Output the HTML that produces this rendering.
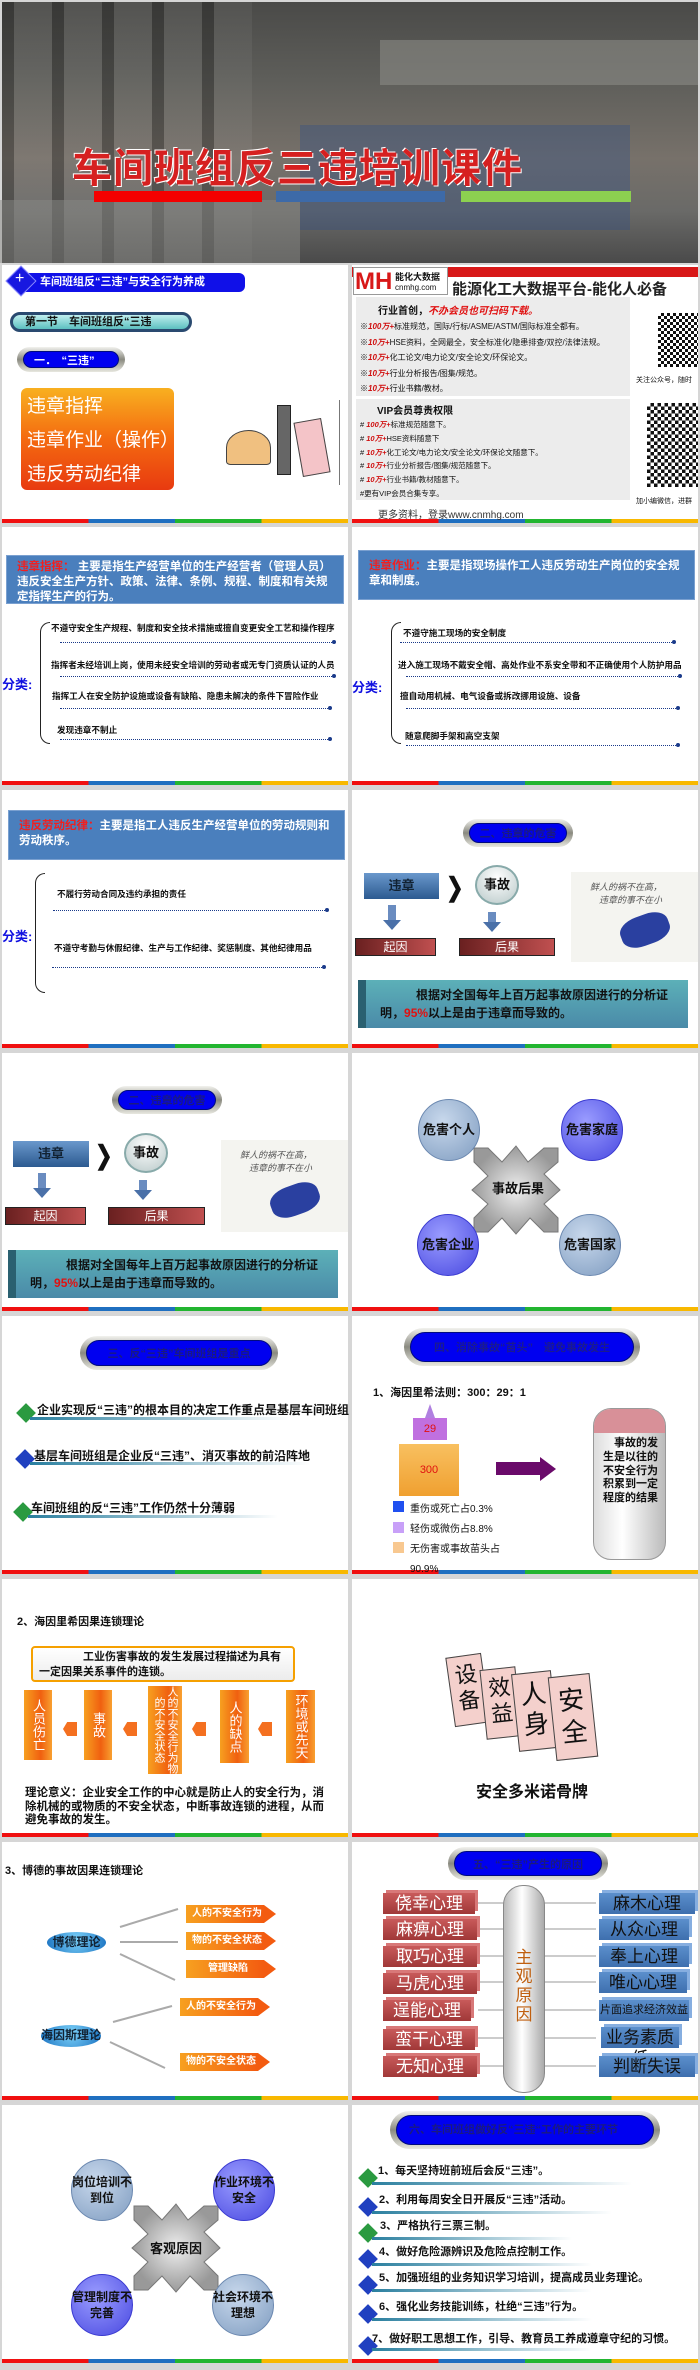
<!DOCTYPE html>
<html><head><meta charset="utf-8"><style>
*{margin:0;padding:0;box-sizing:border-box}
body{width:700px;height:2370px;background:#d6d6d6;position:relative;overflow:hidden;font-family:"Liberation Sans","Noto Sans CJK SC",sans-serif;color:#111}
.a{position:absolute}
.s{position:absolute;background:#fff;width:346px;height:258px}
.s:after{content:"";position:absolute;left:0;right:0;bottom:0;height:4px;background:linear-gradient(90deg,#f01010 25%,#1f6fc0 25% 50%,#22b530 50% 75%,#f8b800 75%)}
.pill{position:absolute;border-radius:20px;background:linear-gradient(#f2f2ee,#8a8a80 50%,#e8e8e0);padding:4px 6px}
.pill div{background:#0000f0;border-radius:16px;height:100%;color:#1a1a80;font-size:11px;font-weight:bold;display:flex;align-items:center;justify-content:center;border:1px solid #000a80}
.bb{position:absolute;background:#4a7fbd;border:1px solid #7aa0d0;color:#fff;font-size:11.5px;font-weight:bold;line-height:15px;padding:4px 10px}
.it{position:absolute;font-size:8.6px;font-weight:bold;white-space:nowrap}
.dl{position:absolute;height:0;border-top:1px dotted #1a3a8a}
.dl:after{content:"";position:absolute;right:-2px;top:-3px;width:4px;height:4px;border-radius:2px;background:#1a3a8a}
.fl{position:absolute;color:#1010e0;font-weight:bold;font-size:13px}
.br{position:absolute;width:10px;border:1.5px solid #222;border-right:none;border-radius:10px 0 0 10px}
.c{position:absolute;border-radius:50%;display:flex;align-items:center;justify-content:center;text-align:center;font-weight:bold;font-size:13px;line-height:16px}
.cg{background:radial-gradient(circle at 40% 35%,#c8d8ec,#7f9cc0);border:1px solid #6b88b0}
.cb{background:radial-gradient(circle at 40% 35%,#9a9cff,#4848e0);border:1px solid #3a3ad0}
.rb{position:absolute;background:linear-gradient(#c85a5a,#a03838);color:#fff;font-size:17px;text-align:center;box-shadow:3px -3px 0 #d87878;line-height:21px}
.bl{position:absolute;background:linear-gradient(#5b8fcc,#3e6fae);color:#111;font-size:17px;text-align:center;box-shadow:3px -3px 0 #86aee0;line-height:21px}
.ob{position:absolute;background:linear-gradient(90deg,#f7a020,#f35b10);color:#fff;font-size:10px;font-weight:bold;padding-left:6px;line-height:18px;height:18px}
.ob:after{content:"";position:absolute;right:-12px;top:0;border-left:12px solid #f35b10;border-top:9px solid transparent;border-bottom:9px solid transparent}
.vb{position:absolute;background:linear-gradient(90deg,#f7a020,#f06010 60%,#f8a030);color:#fff;font-size:13px;text-align:center;line-height:16px;writing-mode:vertical-rl;display:flex;align-items:center;justify-content:center}
.bul{position:absolute;font-size:12px;font-weight:bold;white-space:nowrap}
.dm{position:absolute;width:14px;height:14px;transform:rotate(45deg);background:#2a9a40}
.dmb{background:#2040c0}
.ul{position:absolute;height:3px;background:linear-gradient(90deg,#2a7f9f,rgba(160,210,210,0))}
.ad{position:absolute;left:360px;white-space:nowrap}
.ad i{color:#d01010;font-weight:bold}
</style></head><body>

<!-- Title -->
<div class="a" style="left:2px;top:2px;width:696px;height:261px;background:linear-gradient(180deg,#4a4a48,#5e5e5a 30%,#77716a 60%,#6a6a68 80%,#4a4a4a)"></div>
<div class="a" style="left:2px;top:2px;width:250px;height:261px;background:repeating-linear-gradient(90deg,rgba(0,0,0,.25) 0 12px,rgba(255,255,255,.05) 12px 50px)"></div>
<div class="a" style="left:380px;top:40px;width:318px;height:45px;background:#8a8a86;opacity:.6"></div>
<div class="a" style="left:300px;top:125px;width:330px;height:105px;background:#2e4e88;opacity:.35"></div>
<div class="a" style="left:0px;top:200px;width:300px;height:63px;background:#888884;opacity:.5"></div>
<div class="a" style="left:72px;top:136px;font-size:40px;font-weight:bold;color:#d62020;letter-spacing:1px;text-shadow:1px 1px 0 #fff,-1px -1px 0 #fff">车间班组反三违培训课件</div>
<div class="a" style="left:94px;top:191px;width:168px;height:11px;background:#f40000"></div>
<div class="a" style="left:276px;top:191px;width:169px;height:11px;background:#3d6aa8"></div>
<div class="a" style="left:461px;top:191px;width:170px;height:11px;background:#8cd050"></div>

<!-- Row1 -->
<div class="s" style="left:2px;top:265px"></div>
<div class="a" style="left:22px;top:273px;width:223px;height:19px;background:#1010e8;border-radius:0 6px 6px 0;color:#fff;font-size:11px;font-weight:bold;line-height:19px;padding-left:18px">车间班组反“三违”与安全行为养成</div>
<div class="a" style="left:10px;top:270px;width:22px;height:22px;transform:rotate(45deg);background:#1818e0;border:1px solid #88f"></div>
<div class="a" style="left:15px;top:270px;color:#fff;font-size:16px">+</div>
<div class="a" style="left:10px;top:312px;width:182px;height:20px;border-radius:10px;background:linear-gradient(#bfeeee,#5cc0c0);border:3px solid #2a4a70;font-size:11px;font-weight:bold;line-height:14px;padding-left:12px">第一节　车间班组反“三违</div>
<div class="pill" style="left:17px;top:347px;width:108px;height:25px"><div style="color:#fff;justify-content:flex-start;padding-left:10px">一．　“三违”</div></div>
<div class="a" style="left:21px;top:388px;width:153px;height:102px;border-radius:6px;background:linear-gradient(#f8b020,#f46a10 50%,#e83a10);color:#fff;font-size:19px;line-height:34px;padding:2px 6px;white-space:nowrap">违章指挥<br>违章作业（操作）<br>违反劳动纪律</div>
<div class="a" style="left:226px;top:430px;width:45px;height:35px;border-radius:50% 50% 10% 10%;background:#f0c080;border:1px solid #444"></div>
<div class="a" style="left:277px;top:405px;width:14px;height:70px;background:#666;border:1px solid #222"></div>
<div class="a" style="left:298px;top:420px;width:28px;height:55px;background:#f4c4c8;border:1px solid #444;transform:rotate(-10deg)"></div>
<div class="a" style="left:339px;top:400px;width:1px;height:85px;background:#777"></div>

<div class="s" style="left:352px;top:265px"></div>
<div class="a" style="left:352px;top:267px;width:346px;height:10px;background:#d81818"></div>
<div class="a" style="left:353px;top:267px;width:95px;height:28px;background:#fff;border:1px solid #999"></div>
<div class="a" style="left:355px;top:270px;font-size:24px;font-weight:bold;color:#d81818;line-height:24px">MH</div>
<div class="a" style="left:395px;top:270px;font-size:9px;font-weight:bold">能化大数据</div>
<div class="a" style="left:395px;top:283px;font-size:8px">cnmhg.com</div>
<div class="a" style="left:452px;top:278px;font-size:15px;font-weight:bold;color:#222;white-space:nowrap">能源化工大数据平台-能化人必备</div>
<div class="a" style="left:356px;top:297px;width:274px;height:203px;background:#ececec"></div>
<div class="a" style="left:356px;top:396px;width:274px;height:3px;background:#fff"></div>
<div class="a" style="left:378px;top:302px;font-size:10px;font-weight:bold">行业首创，<i style="color:#e01010">不办会员也可扫码下载。</i></div>
<div class="ad" style="top:319px;font-size:8px;line-height:15.5px">※<i>100万+</i>标准规范，国际/行标/ASME/ASTM/国际标准全都有。<br>※<i>10万+</i>HSE资料，全网最全，安全标准化/隐患排查/双控/法律法规。<br>※<i>10万+</i>化工论文/电力论文/安全论文/环保论文。<br>※<i>10万+</i>行业分析报告/图集/规范。<br>※<i>10万+</i>行业书籍/教材。</div>
<div class="a" style="left:377px;top:402px;font-size:10px;font-weight:bold">VIP会员尊贵权限</div>
<div class="ad" style="top:418px;font-size:7.5px;line-height:13.8px"># <i>100万+</i>标准规范随意下。<br># <i>10万+</i>HSE资料随意下<br># <i>10万+</i>化工论文/电力论文/安全论文/环保论文随意下。<br># <i>10万+</i>行业分析报告/图集/规范随意下。<br># <i>10万+</i>行业书籍/教材随意下。<br>#更有VIP会员合集专享。</div>
<div class="a" style="left:378px;top:506px;font-size:10px;color:#333">更多资料，登录www.cnmhg.com</div>
<div class="a" style="left:658px;top:313px;width:40px;height:54px;background:repeating-conic-gradient(#111 0 25%,#fff 0 50%) 0 0/6px 6px"></div>
<div class="a" style="left:636px;top:375px;font-size:7px">关注公众号，随时</div>
<div class="a" style="left:647px;top:403px;width:51px;height:84px;background:repeating-conic-gradient(#111 0 25%,#fff 0 50%) 0 0/7px 7px"></div>
<div class="a" style="left:636px;top:496px;font-size:7px">加小编微信，进群</div>

<!-- Row2 -->
<div class="s" style="left:2px;top:527px"></div>
<div class="bb" style="left:6px;top:555px;width:338px;height:49px"><span style="color:#f02020">违章指挥：</span> 主要是指生产经营单位的生产经营者（管理人员）违反安全生产方针、政策、法律、条例、规程、制度和有关规定指挥生产的行为。</div>
<div class="fl" style="left:2px;top:674px">分类:</div>
<div class="br" style="left:40px;top:622px;height:122px"></div>
<div class="it" style="left:51px;top:622px">不遵守安全生产规程、制度和安全技术措施或擅自变更安全工艺和操作程序</div>
<div class="dl" style="left:60px;top:642px;width:274px"></div>
<div class="it" style="left:51px;top:659px">指挥者未经培训上岗，使用未经安全培训的劳动者或无专门资质认证的人员</div>
<div class="dl" style="left:60px;top:676px;width:274px"></div>
<div class="it" style="left:52px;top:690px">指挥工人在安全防护设施或设备有缺陷、隐患未解决的条件下冒险作业</div>
<div class="dl" style="left:60px;top:708px;width:270px"></div>
<div class="it" style="left:57px;top:724px">发现违章不制止</div>
<div class="dl" style="left:60px;top:739px;width:270px"></div>

<div class="s" style="left:352px;top:527px"></div>
<div class="bb" style="left:358px;top:550px;width:337px;height:50px;padding-top:8px"><span style="color:#f02020">违章作业：</span>主要是指现场操作工人违反劳动生产岗位的安全规章和制度。</div>
<div class="fl" style="left:352px;top:677px">分类:</div>
<div class="br" style="left:391px;top:622px;height:122px"></div>
<div class="it" style="left:403px;top:627px">不遵守施工现场的安全制度</div>
<div class="dl" style="left:400px;top:642px;width:274px"></div>
<div class="it" style="left:398px;top:659px">进入施工现场不戴安全帽、高处作业不系安全带和不正确使用个人防护用品</div>
<div class="dl" style="left:406px;top:676px;width:274px"></div>
<div class="it" style="left:400px;top:690px">擅自动用机械、电气设备或拆改挪用设施、设备</div>
<div class="dl" style="left:406px;top:708px;width:272px"></div>
<div class="it" style="left:405px;top:730px">随意爬脚手架和高空支架</div>
<div class="dl" style="left:406px;top:745px;width:272px"></div>

<!-- Row3 -->
<div class="s" style="left:2px;top:790px"></div>
<div class="bb" style="left:8px;top:810px;width:337px;height:50px;padding-top:8px"><span style="color:#f02020">违反劳动纪律：</span>主要是指工人违反生产经营单位的劳动规则和劳动秩序。</div>
<div class="fl" style="left:2px;top:926px">分类:</div>
<div class="br" style="left:35px;top:873px;height:120px"></div>
<div class="it" style="left:57px;top:888px">不履行劳动合同及违约承担的责任</div>
<div class="dl" style="left:53px;top:910px;width:274px"></div>
<div class="it" style="left:54px;top:942px">不遵守考勤与休假纪律、生产与工作纪律、奖惩制度、其他纪律用品</div>
<div class="dl" style="left:52px;top:967px;width:272px"></div>

<div class="s" style="left:352px;top:790px"></div>
<div class="pill" style="left:463px;top:819px;width:110px;height:28px"><div>二、违章的危害</div></div>
<div class="a" style="left:364px;top:873px;width:75px;height:26px;background:linear-gradient(#6a98cc,#2c5a90);color:#123;font-size:13px;text-align:center;line-height:26px;font-weight:bold">违章</div>
<div class="a" style="left:444px;top:874px;font-size:26px;font-weight:bold;line-height:26px;transform:scaleX(.8)">❯</div>
<div class="c" style="left:475px;top:865px;width:44px;height:40px;background:radial-gradient(circle at 50% 30%,#fff,#b8c8c8);border:2px solid #8aa">事故</div>
<div class="a" style="left:388px;top:905px;width:8px;height:16px;background:#6a8cc0"></div><div class="a" style="left:383px;top:920px;border-top:10px solid #4a70a8;border-left:9px solid transparent;border-right:9px solid transparent"></div>
<div class="a" style="left:488px;top:912px;width:8px;height:11px;background:#6a8cc0"></div><div class="a" style="left:483px;top:922px;border-top:10px solid #4a70a8;border-left:9px solid transparent;border-right:9px solid transparent"></div>
<div class="a" style="left:355px;top:938px;width:81px;height:18px;background:linear-gradient(90deg,#6a2020,#c05050);border:1px solid #222;color:#fff;font-size:12px;text-align:center;line-height:16px">起因</div>
<div class="a" style="left:459px;top:938px;width:96px;height:18px;background:linear-gradient(90deg,#6a2020,#c05050);border:1px solid #222;color:#fff;font-size:12px;text-align:center;line-height:16px">后果</div>
<div class="a" style="left:571px;top:872px;width:127px;height:90px;background:#f4f4f0"></div>
<div class="a" style="left:590px;top:880px;font-size:9px;color:#555;font-style:italic">鲜人的祸不在高，<br>　违章的事不在小</div>
<div class="a" style="left:620px;top:915px;width:50px;height:30px;background:#2a40a0;border-radius:40%;transform:rotate(-20deg)"></div>
<div class="a" style="left:358px;top:980px;width:330px;height:48px;background:linear-gradient(180deg,#5cb0b8,#4a8aa8);border-left:8px solid #2a6070;font-size:12px;font-weight:bold;line-height:18px;padding:6px 12px 0 14px;text-indent:3em">根据对全国每年上百万起事故原因进行的分析证明，<span style="color:#e01010">95%</span>以上是由于违章而导致的。</div>

<!-- Row4 -->
<div class="s" style="left:2px;top:1053px"></div>
<div class="pill" style="left:112px;top:1086px;width:110px;height:28px"><div>二、违章的危害</div></div>
<div class="a" style="left:13px;top:1141px;width:76px;height:26px;background:linear-gradient(#6a98cc,#2c5a90);color:#123;font-size:13px;text-align:center;line-height:26px;font-weight:bold">违章</div>
<div class="a" style="left:93px;top:1142px;font-size:26px;font-weight:bold;line-height:26px;transform:scaleX(.8)">❯</div>
<div class="c" style="left:124px;top:1133px;width:44px;height:40px;background:radial-gradient(circle at 50% 30%,#fff,#b8c8c8);border:2px solid #8aa">事故</div>
<div class="a" style="left:38px;top:1173px;width:8px;height:16px;background:#6a8cc0"></div><div class="a" style="left:33px;top:1188px;border-top:10px solid #4a70a8;border-left:9px solid transparent;border-right:9px solid transparent"></div>
<div class="a" style="left:139px;top:1180px;width:8px;height:11px;background:#6a8cc0"></div><div class="a" style="left:134px;top:1190px;border-top:10px solid #4a70a8;border-left:9px solid transparent;border-right:9px solid transparent"></div>
<div class="a" style="left:5px;top:1207px;width:81px;height:18px;background:linear-gradient(90deg,#6a2020,#c05050);border:1px solid #222;color:#fff;font-size:12px;text-align:center;line-height:16px">起因</div>
<div class="a" style="left:108px;top:1207px;width:97px;height:18px;background:linear-gradient(90deg,#6a2020,#c05050);border:1px solid #222;color:#fff;font-size:12px;text-align:center;line-height:16px">后果</div>
<div class="a" style="left:221px;top:1140px;width:127px;height:92px;background:#f4f4f0"></div>
<div class="a" style="left:240px;top:1148px;font-size:9px;color:#555;font-style:italic">鲜人的祸不在高，<br>　违章的事不在小</div>
<div class="a" style="left:270px;top:1185px;width:50px;height:30px;background:#2a40a0;border-radius:40%;transform:rotate(-20deg)"></div>
<div class="a" style="left:8px;top:1250px;width:330px;height:48px;background:linear-gradient(180deg,#5cb0b8,#4a8aa8);border-left:8px solid #2a6070;font-size:12px;font-weight:bold;line-height:18px;padding:6px 12px 0 14px;text-indent:3em">根据对全国每年上百万起事故原因进行的分析证明，<span style="color:#e01010">95%</span>以上是由于违章而导致的。</div>

<div class="s" style="left:352px;top:1053px"></div>
<svg class="a" style="left:468px;top:1142px" width="96" height="96" viewBox="0 0 96 96"><defs><radialGradient id="g1"><stop offset="0" stop-color="#eee"/><stop offset="1" stop-color="#999"/></radialGradient></defs><polygon points="48,4 60,20 76,6 90,6 90,20 76,32 92,48 76,62 90,76 90,90 76,90 62,76 48,92 34,76 20,90 6,90 6,76 20,62 4,48 20,34 6,20 6,6 20,6 34,20" fill="url(#g1)" stroke="#777"/></svg>
<div class="a" style="left:492px;top:1178px;font-size:13px;font-weight:bold">事故后果</div>
<div class="c cg" style="left:418px;top:1099px;width:62px;height:62px">危害个人</div>
<div class="c cb" style="left:561px;top:1099px;width:62px;height:62px">危害家庭</div>
<div class="c cb" style="left:417px;top:1214px;width:62px;height:62px">危害企业</div>
<div class="c cg" style="left:559px;top:1214px;width:62px;height:62px">危害国家</div>

<!-- Row5 -->
<div class="s" style="left:2px;top:1316px"></div>
<div class="pill" style="left:80px;top:1336px;width:198px;height:34px"><div>三、反“三违”车间班组是重点</div></div>
<div class="dm" style="left:19px;top:1406px"></div><div class="ul" style="left:30px;top:1417px;width:260px"></div>
<div class="bul" style="left:37px;top:1401px">企业实现反“三违”的根本目的决定工作重点是基层车间班组</div>
<div class="dm dmb" style="left:18px;top:1452px"></div><div class="ul" style="left:30px;top:1462px;width:280px"></div>
<div class="bul" style="left:34px;top:1447px">基层车间班组是企业反“三违”、消灭事故的前沿阵地</div>
<div class="dm" style="left:16px;top:1505px"></div><div class="ul" style="left:28px;top:1515px;width:250px"></div>
<div class="bul" style="left:31px;top:1499px">车间班组的反“三违”工作仍然十分薄弱</div>

<div class="s" style="left:352px;top:1316px"></div>
<div class="pill" style="left:404px;top:1328px;width:236px;height:38px"><div style="color:#1a1a90">四、消除事故“苗头”　避免事故发生</div></div>
<div class="a" style="left:373px;top:1384px;font-size:11px;font-weight:bold">1、海因里希法则：300：29：1</div>
<div class="a" style="left:425px;top:1404px;border-bottom:14px solid #b080e0;border-left:5px solid transparent;border-right:5px solid transparent"></div>
<div class="a" style="left:413px;top:1418px;width:34px;height:22px;background:#c070e0;color:#e01010;font-size:11px;text-align:center;line-height:22px">29</div>
<div class="a" style="left:399px;top:1444px;width:60px;height:52px;background:linear-gradient(#f8c060,#f0a030);color:#e01010;font-size:11px;text-align:center;line-height:52px">300</div>
<div class="a" style="left:496px;top:1462px;width:45px;height:13px;background:#6a0a6a"></div>
<div class="a" style="left:540px;top:1457px;border-left:16px solid #6a0a6a;border-top:12px solid transparent;border-bottom:12px solid transparent"></div>
<div class="a" style="left:593px;top:1408px;width:73px;height:152px;border-radius:18px;background:linear-gradient(90deg,#ddd,#fff 40%,#bbb);border:1px solid #999;overflow:hidden"><div style="height:24px;background:#d89098"></div><div style="font-size:11px;font-weight:bold;line-height:13.8px;padding:4px 4px 0 6px;text-align:center">　事故的发生是以往的不安全行为积累到一定程度的结果</div></div>
<div class="a" style="left:393px;top:1501px;width:11px;height:11px;background:#2050f0"></div>
<div class="a" style="left:393px;top:1522px;width:11px;height:11px;background:#c8a0f8"></div>
<div class="a" style="left:393px;top:1542px;width:11px;height:11px;background:#f8c890"></div>
<div class="a" style="left:410px;top:1500px;font-size:10px;line-height:20px">重伤或死亡占0.3%<br>轻伤或微伤占8.8%<br>无伤害或事故苗头占<br>90.9%</div>

<!-- Row6 -->
<div class="s" style="left:2px;top:1579px"></div>
<div class="a" style="left:17px;top:1613px;font-size:11px;font-weight:bold">2、海因里希因果连锁理论</div>
<div class="a" style="left:31px;top:1646px;width:264px;height:36px;border:2px solid #f5a000;border-radius:4px;background:linear-gradient(#fff,#ececec);font-size:11px;font-weight:bold;line-height:15px;padding:2px 6px;text-indent:4em">工业伤害事故的发生发展过程描述为具有一定因果关系事件的连锁。</div>
<div class="vb" style="left:24px;top:1690px;width:28px;height:70px">人员伤亡</div>
<div class="vb" style="left:84px;top:1690px;width:28px;height:70px">事故</div>
<div class="vb" style="left:148px;top:1686px;width:34px;height:88px;font-size:11px;line-height:13px">人的不安全行为物的不安全状态</div>
<div class="vb" style="left:220px;top:1690px;width:29px;height:73px">人的缺点</div>
<div class="vb" style="left:286px;top:1690px;width:29px;height:73px">环境或先天</div>
<div class="a" style="left:63px;top:1722px;width:14px;height:14px;background:#f47020;clip-path:polygon(30% 0,100% 0,100% 100%,30% 100%,0 50%)"></div>
<div class="a" style="left:123px;top:1722px;width:14px;height:14px;background:#f47020;clip-path:polygon(30% 0,100% 0,100% 100%,30% 100%,0 50%)"></div>
<div class="a" style="left:192px;top:1722px;width:14px;height:14px;background:#f47020;clip-path:polygon(30% 0,100% 0,100% 100%,30% 100%,0 50%)"></div>
<div class="a" style="left:258px;top:1722px;width:14px;height:14px;background:#f47020;clip-path:polygon(30% 0,100% 0,100% 100%,30% 100%,0 50%)"></div>
<div class="a" style="left:25px;top:1787px;font-size:11.5px;font-weight:bold;line-height:13.5px;width:300px">理论意义：企业安全工作的中心就是防止人的安全行为，消除机械的或物质的不安全状态，中断事故连锁的进程，从而避免事故的发生。</div>

<div class="s" style="left:352px;top:1579px"></div>
<div class="a" style="left:450px;top:1655px;width:36px;height:70px;background:#f4d0cc;border:1px solid #444;transform:rotate(-8deg);font-size:22px;line-height:26px;text-align:center;padding-top:6px">设备</div>
<div class="a" style="left:483px;top:1668px;width:36px;height:70px;background:#f4d0cc;border:1px solid #444;transform:rotate(-6deg);font-size:22px;line-height:26px;text-align:center;padding-top:6px">效益</div>
<div class="a" style="left:515px;top:1672px;width:40px;height:78px;background:#f4d0cc;border:1px solid #444;transform:rotate(-6deg);font-size:26px;line-height:30px;text-align:center;padding-top:6px">人身</div>
<div class="a" style="left:552px;top:1675px;width:42px;height:84px;background:#f4d0cc;border:1px solid #444;transform:rotate(-6deg);font-size:26px;line-height:32px;text-align:center;padding-top:8px">安全</div>
<div class="a" style="left:476px;top:1778px;font-size:16px;font-weight:bold">安全多米诺骨牌</div>

<!-- Row7 -->
<div class="s" style="left:2px;top:1842px"></div>
<div class="a" style="left:5px;top:1862px;font-size:11px;font-weight:bold">3、博德的事故因果连锁理论</div>
<div class="a" style="left:47px;top:1932px;width:59px;height:21px;border-radius:50%;background:radial-gradient(circle at 50% 35%,#7ad0f8,#1870c0);font-size:12px;font-weight:bold;text-align:center;line-height:20px;color:#123">博德理论</div>
<svg class="a" style="left:0;top:1842px" width="346" height="258"><g stroke="#aaa" stroke-width="2"><line x1="120" y1="85" x2="178" y2="67"/><line x1="120" y1="100" x2="178" y2="100"/><line x1="120" y1="112" x2="175" y2="138"/><line x1="113" y1="180" x2="172" y2="164"/><line x1="110" y1="200" x2="165" y2="226"/></g></svg>
<div class="ob" style="left:186px;top:1905px;width:78px">人的不安全行为</div>
<div class="ob" style="left:186px;top:1932px;width:78px">物的不安全状态</div>
<div class="ob" style="left:186px;top:1960px;width:78px;text-align:center">管理缺陷</div>
<div class="a" style="left:41px;top:2025px;width:60px;height:22px;border-radius:50%;background:radial-gradient(circle at 50% 35%,#7ad0f8,#1870c0);font-size:12px;font-weight:bold;text-align:center;line-height:21px;color:#123">海因斯理论</div>
<div class="ob" style="left:180px;top:1998px;width:78px">人的不安全行为</div>
<div class="ob" style="left:180px;top:2053px;width:78px">物的不安全状态</div>

<div class="s" style="left:352px;top:1842px"></div>
<div class="pill" style="left:448px;top:1847px;width:160px;height:33px"><div>五、“三违”产生的原因</div></div>
<svg class="a" style="left:352px;top:1842px" width="346" height="258"><g stroke="#999" stroke-width="1"><line x1="126" y1="61" x2="244" y2="61"/><line x1="126" y1="87" x2="244" y2="87"/><line x1="126" y1="114" x2="244" y2="114"/><line x1="126" y1="140" x2="244" y2="140"/><line x1="126" y1="168" x2="244" y2="168"/><line x1="126" y1="196" x2="244" y2="196"/><line x1="126" y1="224" x2="244" y2="224"/></g></svg>
<div class="a" style="left:503px;top:1885px;width:42px;height:208px;border-radius:20px;background:linear-gradient(90deg,#bbb,#fff 45%,#aaa);border:1px solid #888;color:#c06010;font-size:17px;text-align:center;line-height:19px;padding-top:62px">主<br>观<br>原<br>因</div>
<div class="rb" style="left:383px;top:1893px;width:92px;height:21px">侥幸心理</div>
<div class="rb" style="left:383px;top:1919px;width:94px;height:21px">麻痹心理</div>
<div class="rb" style="left:383px;top:1946px;width:94px;height:21px">取巧心理</div>
<div class="rb" style="left:383px;top:1973px;width:94px;height:21px">马虎心理</div>
<div class="rb" style="left:383px;top:2000px;width:88px;height:21px">逞能心理</div>
<div class="rb" style="left:383px;top:2029px;width:92px;height:21px">蛮干心理</div>
<div class="rb" style="left:383px;top:2056px;width:94px;height:21px">无知心理</div>
<div class="bl" style="left:599px;top:1893px;width:96px;height:21px">麻木心理</div>
<div class="bl" style="left:599px;top:1919px;width:90px;height:21px">从众心理</div>
<div class="bl" style="left:599px;top:1946px;width:90px;height:21px">奉上心理</div>
<div class="bl" style="left:599px;top:1972px;width:88px;height:21px">唯心心理</div>
<div class="bl" style="left:599px;top:2000px;width:90px;height:21px;font-size:11px">片面追求经济效益</div>
<div class="bl" style="left:601px;top:2027px;width:78px;height:21px">业务素质低</div>
<div class="bl" style="left:599px;top:2056px;width:96px;height:21px">判断失误</div>

<!-- Row8 -->
<div class="s" style="left:2px;top:2105px"></div>
<svg class="a" style="left:128px;top:2200px" width="96" height="96" viewBox="0 0 96 96"><polygon points="48,4 60,20 76,6 90,6 90,20 76,32 92,48 76,62 90,76 90,90 76,90 62,76 48,92 34,76 20,90 6,90 6,76 20,62 4,48 20,34 6,20 6,6 20,6 34,20" fill="url(#g1)" stroke="#777"/></svg>
<div class="a" style="left:150px;top:2238px;font-size:13px;font-weight:bold">客观原因</div>
<div class="c cg" style="left:71px;top:2159px;width:62px;height:62px;font-size:12px">岗位培训不到位</div>
<div class="c cb" style="left:213px;top:2159px;width:62px;height:62px;font-size:12px">作业环境不安全</div>
<div class="c cb" style="left:71px;top:2274px;width:62px;height:62px;font-size:12px">管理制度不完善</div>
<div class="c cg" style="left:212px;top:2274px;width:62px;height:62px;font-size:12px">社会环境不理想</div>

<div class="s" style="left:352px;top:2105px"></div>
<div class="pill" style="left:390px;top:2111px;width:270px;height:38px"><div style="justify-content:flex-start;padding-left:12px;line-height:14px">六、车间班组做好反“三违“工作的主要环节</div></div>
<div class="dm" style="left:361px;top:2171px"></div><div class="ul" style="left:372px;top:2182px;width:260px"></div>
<div class="bul" style="left:378px;top:2162px;font-size:11px">1、每天坚持班前班后会反“三违”。</div>
<div class="dm dmb" style="left:361px;top:2200px"></div><div class="ul" style="left:372px;top:2211px;width:240px"></div>
<div class="bul" style="left:379px;top:2191px;font-size:11px">2、利用每周安全日开展反“三违”活动。</div>
<div class="dm" style="left:361px;top:2226px"></div><div class="ul" style="left:372px;top:2237px;width:200px"></div>
<div class="bul" style="left:380px;top:2217px;font-size:11px">3、严格执行三票三制。</div>
<div class="dm dmb" style="left:361px;top:2252px"></div><div class="ul" style="left:372px;top:2263px;width:220px"></div>
<div class="bul" style="left:379px;top:2243px;font-size:11px">4、做好危险源辨识及危险点控制工作。</div>
<div class="dm dmb" style="left:361px;top:2278px"></div><div class="ul" style="left:372px;top:2289px;width:220px"></div>
<div class="bul" style="left:379px;top:2269px;font-size:11px">5、加强班组的业务知识学习培训，提高成员业务理论。</div>
<div class="dm dmb" style="left:361px;top:2307px"></div><div class="ul" style="left:372px;top:2318px;width:220px"></div>
<div class="bul" style="left:379px;top:2298px;font-size:11px">6、强化业务技能训练，杜绝“三违”行为。</div>
<div class="dm dmb" style="left:361px;top:2339px"></div><div class="ul" style="left:372px;top:2348px;width:220px"></div>
<div class="bul" style="left:372px;top:2330px;font-size:11px">7、做好职工思想工作，引导、教育员工养成遵章守纪的习惯。</div>

</body></html>
